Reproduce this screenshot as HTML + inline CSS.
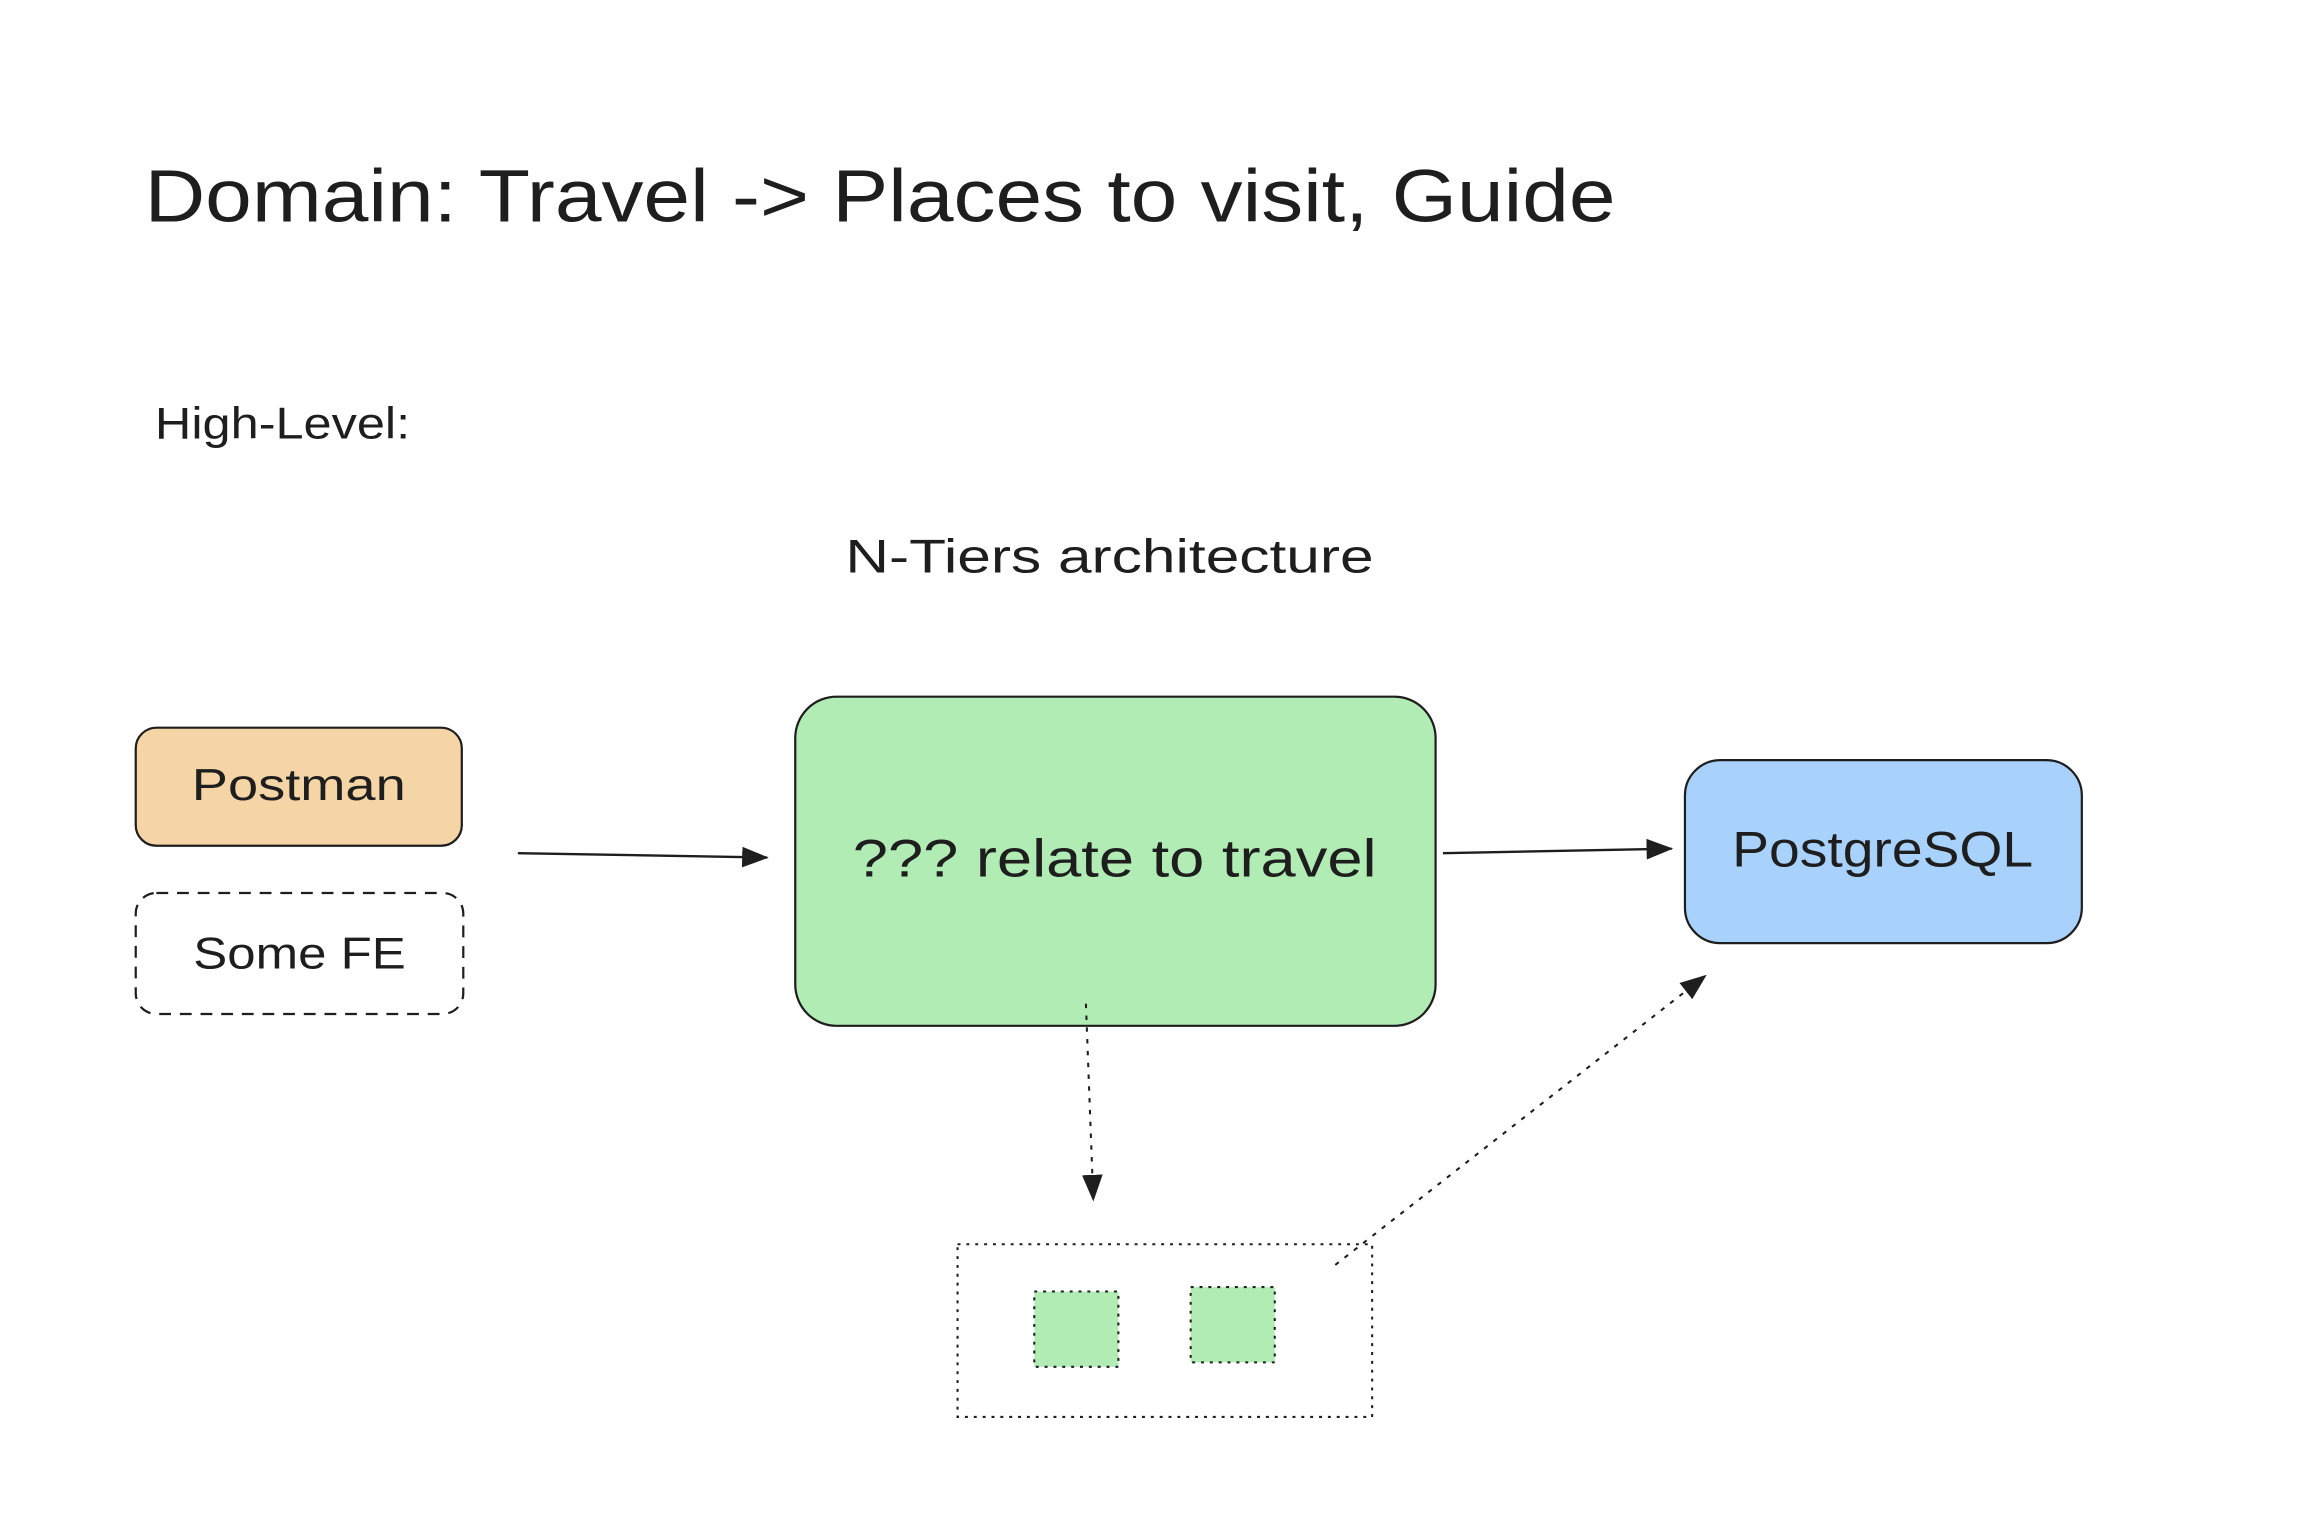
<!DOCTYPE html>
<html><head><meta charset="utf-8"><style>
html,body{margin:0;padding:0;background:#fff;}
svg{display:block;}
text{font-family:"Liberation Sans",sans-serif;fill:#1e1e1e;}
</style></head><body>
<svg width="2312" height="1538" viewBox="0 0 1567 1042" preserveAspectRatio="none" xmlns="http://www.w3.org/2000/svg">
<defs>
<marker id="ah2" markerWidth="18" markerHeight="18" refX="17" refY="9" orient="auto" markerUnits="userSpaceOnUse" viewBox="0 0 18 18">
<path d="M0,2 L18,9 L0,16 z" fill="#1e1e1e"/>
</marker>
</defs>
<rect width="1567" height="1042" fill="#fff"/>
<text x="98" y="150" font-size="50" textLength="997" lengthAdjust="spacingAndGlyphs">Domain: Travel -&gt; Places to visit, Guide</text>
<text x="105" y="297" font-size="30" textLength="173" lengthAdjust="spacingAndGlyphs">High-Level:</text>
<text x="573" y="388" font-size="32" textLength="358" lengthAdjust="spacingAndGlyphs">N-Tiers architecture</text>

<rect x="92" y="493" width="221" height="80" rx="14" fill="#f5d5a5" stroke="#1e1e1e" stroke-width="1.5"/>
<text x="130" y="542" font-size="30" textLength="145" lengthAdjust="spacingAndGlyphs">Postman</text>

<rect x="92" y="605" width="222" height="82" rx="14" fill="none" stroke="#1e1e1e" stroke-width="1.5" stroke-dasharray="8 6"/>
<text x="131" y="656" font-size="30" textLength="144" lengthAdjust="spacingAndGlyphs">Some FE</text>

<line x1="351" y1="578" x2="520" y2="581" stroke="#1e1e1e" stroke-width="1.6" marker-end="url(#ah2)"/>

<rect x="539" y="472" width="434" height="223" rx="28" fill="#b2ecb5" stroke="#1e1e1e" stroke-width="1.5"/>
<text x="578" y="594" font-size="36" textLength="355" lengthAdjust="spacingAndGlyphs">??? relate to travel</text>

<line x1="978" y1="578" x2="1133" y2="575" stroke="#1e1e1e" stroke-width="1.6" marker-end="url(#ah2)"/>

<rect x="1142" y="515" width="269" height="124" rx="24" fill="#a8d1fb" stroke="#1e1e1e" stroke-width="1.5"/>
<text x="1174" y="587" font-size="34" textLength="204" lengthAdjust="spacingAndGlyphs">PostgreSQL</text>

<line x1="736" y1="680" x2="741" y2="813" stroke="#1e1e1e" stroke-width="1.4" stroke-dasharray="3 5" marker-end="url(#ah2)"/>
<line x1="905" y1="857" x2="1156" y2="661" stroke="#1e1e1e" stroke-width="1.4" stroke-dasharray="3 5" marker-end="url(#ah2)"/>

<rect x="649" y="843" width="281" height="117" fill="none" stroke="#1e1e1e" stroke-width="1.4" stroke-dasharray="2 4"/>
<rect x="701" y="875" width="57" height="51" fill="#b2ecb5" stroke="#1e1e1e" stroke-width="1.4" stroke-dasharray="2 4"/>
<rect x="807" y="872" width="57" height="51" fill="#b2ecb5" stroke="#1e1e1e" stroke-width="1.4" stroke-dasharray="2 4"/>
</svg>
</body></html>
